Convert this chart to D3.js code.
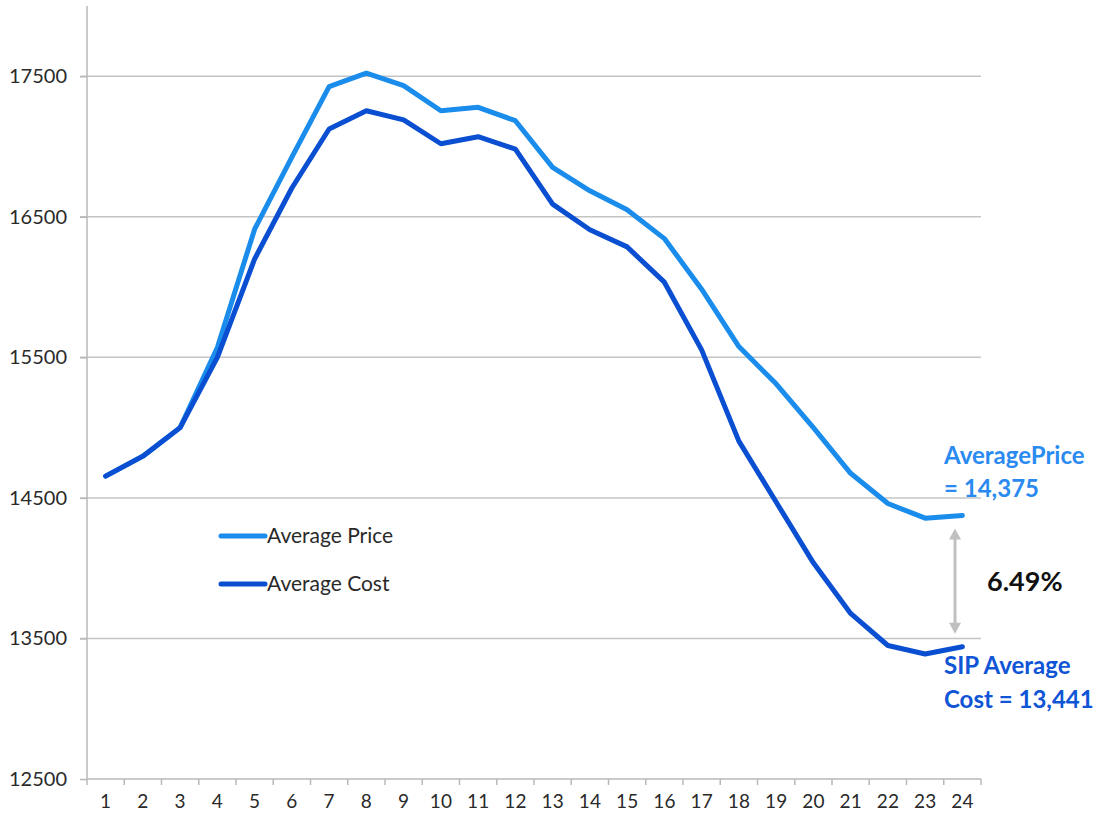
<!DOCTYPE html>
<html><head><meta charset="utf-8">
<script src="https://cdn.jsdelivr.net/npm/d3@7"></script>
<style>body{margin:0;background:#fff}svg{display:block}text{font-family:Lato,"Open Sans",sans-serif}</style>
</head><body>
<svg id="c" width="1095" height="818"></svg>
<script>
const months = d3.range(1, 25).map(String);
const averagePrice = [14655,14797,15000,15570,16412,16925,17426,17522,17433,17255,17279,17184,16852,16685,16550,16345,15985,15577,15312,15000,14675,14460,14356,14375];
const averageCost  = [14655,14797,15000,15500,16200,16705,17125,17255,17190,17020,17070,16982,16590,16408,16286,16035,15553,14904,14471,14038,13678,13450,13389,13441];
const yTicks = [12500,13500,14500,15500,16500,17500];
const seriesNames = ["Average Price","Average Cost"];
const colors = ["#1a8ceb","#0a4fd1"];
const gapLabel = "6.49%";

const svg = d3.select("#c");
const x = d3.scaleBand().domain(months).range([87, 981]);
const y = d3.scaleLinear().domain([12500, 18000]).range([779, 6]);
const cx = d => x(d) + x.bandwidth()/2;

// gridlines
svg.append("g").selectAll("line").data(yTicks.slice(1)).join("line")
  .attr("x1", 80).attr("x2", 981).attr("y1", d=>y(d)).attr("y2", d=>y(d))
  .attr("stroke", "#c4c4c4").attr("stroke-width", 1.5);

// y axis
const ya = svg.append("g").attr("transform","translate(87,0)")
  .call(d3.axisLeft(y).tickValues(yTicks).tickSize(7).tickPadding(13).tickFormat(d3.format("d")));
ya.select(".domain").attr("d", `M0,${y(18000)}V${y(12500)}`).attr("stroke","#b8b8b8").attr("stroke-width",1.5);
ya.selectAll(".tick line").attr("stroke","#b8b8b8").attr("stroke-width",1.5);
ya.selectAll(".tick text").attr("font-size",20).attr("fill","#2a2a2a").attr("font-family","Lato, sans-serif");

// x axis
const xa = svg.append("g").attr("transform",`translate(0,${y(12500)})`)
  .call(d3.axisBottom(x).tickSize(0).tickPadding(16));
xa.select(".domain").attr("d","M87,0H981").attr("stroke","#b8b8b8").attr("stroke-width",1.5);
xa.selectAll(".tick text").attr("font-size",19).attr("fill","#2a2a2a").attr("font-family","Lato, sans-serif");
svg.append("g").selectAll("line").data(months).join("line")
  .attr("x1", d=>x(d)).attr("x2", d=>x(d)).attr("y1", y(12500)).attr("y2", y(12500)+6)
  .attr("stroke","#b8b8b8").attr("stroke-width",1.5);
svg.append("line").attr("x1",981).attr("x2",981).attr("y1",y(12500)).attr("y2",y(12500)+6)
  .attr("stroke","#b8b8b8").attr("stroke-width",1.5);

// lines
const line = d3.line().x((d,i)=>cx(months[i])).y(d=>y(d));
[averagePrice, averageCost].forEach((s,i)=>{
  svg.append("path").datum(s).attr("d", line).attr("fill","none")
    .attr("stroke", colors[i]).attr("stroke-width", 5).attr("stroke-linejoin","round").attr("stroke-linecap","round");
});

// legend
seriesNames.forEach((n,i)=>{
  const ly = 536 + i*48;
  svg.append("line").attr("x1",221).attr("x2",265).attr("y1",ly).attr("y2",ly)
    .attr("stroke",colors[i]).attr("stroke-width",5).attr("stroke-linecap","round");
  svg.append("text").attr("x",267).attr("y",ly+7).attr("font-size",21).attr("fill","#2a2a2a").text(n);
});

// annotations
const lastP = averagePrice[23], lastC = averageCost[23];
const fmt = d3.format(",");
svg.append("text").attr("x",944).attr("y",464).attr("font-size",24).attr("font-weight","bold").attr("fill","#2a8af0").text("AveragePrice");
svg.append("text").attr("x",944).attr("y",497).attr("font-size",24).attr("font-weight","bold").attr("fill","#2a8af0").text("= " + fmt(lastP));
svg.append("text").attr("x",944).attr("y",674).attr("font-size",24).attr("font-weight","bold").attr("fill","#0f55d6").text("SIP Average");
svg.append("text").attr("x",944).attr("y",708).attr("font-size",24).attr("font-weight","bold").attr("fill","#0f55d6").text("Cost = " + fmt(lastC));
svg.append("text").attr("x",987).attr("y",591).attr("font-size",27).attr("font-weight","bold").attr("fill","#111").text(gapLabel);

// arrow
const ax = 955;
const ay1 = y(lastP)+13, ay2 = y(lastC)-13;
svg.append("line").attr("x1",ax).attr("x2",ax).attr("y1",ay1+8).attr("y2",ay2-8).attr("stroke","#c0c0c0").attr("stroke-width",3);
svg.append("path").attr("d",`M${ax-6},${ay1+11}L${ax},${ay1}L${ax+6},${ay1+11}Z`).attr("fill","#c0c0c0");
svg.append("path").attr("d",`M${ax-6},${ay2-11}L${ax},${ay2}L${ax+6},${ay2-11}Z`).attr("fill","#c0c0c0");
</script>
</body></html>
